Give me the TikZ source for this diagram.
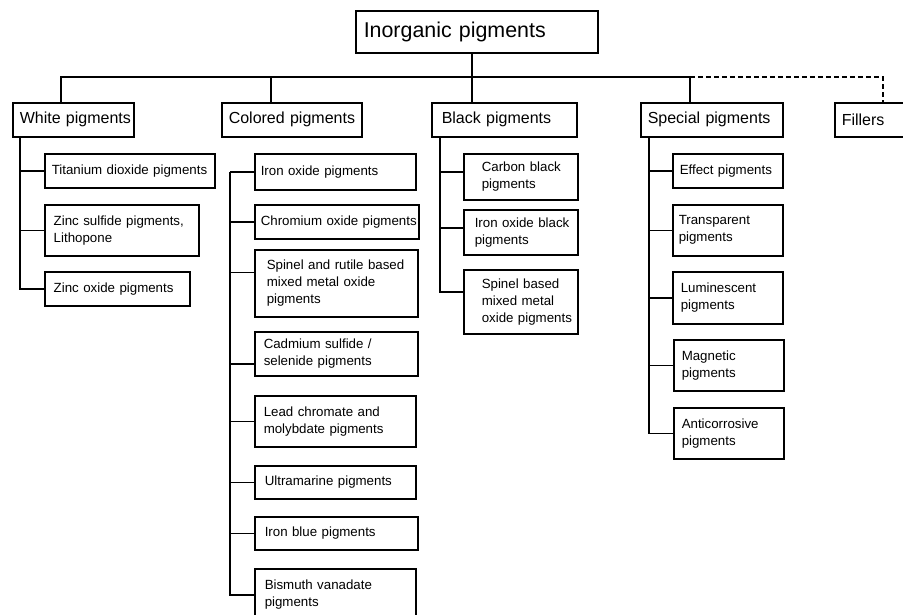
\documentclass[tikz,border=0pt]{standalone}
\usepackage{fontspec}
\setmainfont{Liberation Sans}

\begin{document}
\begin{tikzpicture}[x=1pt,y=-1pt,line width=1.5pt,
    every node/.style={draw, anchor=north west, align=left, inner xsep=0pt, inner ysep=0pt},
    lpad/.style={execute at begin node={\leftskip=#1pt}},
    head/.style={font=\fontsize{21.4}{25}\selectfont, minimum height=42pt},
    group/.style={font=\fontsize{16}{19}\selectfont, minimum height=34pt},
    item/.style={font=\fontsize{13.3}{17}\selectfont}]
    \useasboundingbox (0,0) rectangle (903,614);

    \node[head, lpad=8, text width=242pt] (inorg) at (355,10) {Inorganic pigments};

    \node[group, lpad=7, text width=121pt] (white) at (12,102) {White pigments};
    \node[group, lpad=7, text width=140pt] (colored) at (221,102) {Colored pigments};
    \node[group, lpad=10, text width=145pt] (black) at (431,102) {Black pigments};
    \node[group, lpad=7, text width=142pt] (special) at (640,102) {Special pigments};
    \node[group, lpad=7, text width=80pt] (fillers) at (834,102) {Fillers};

    \node[item, lpad=7, text width=170pt, minimum height=34pt] (tio) at (44,153) {Titanium dioxide pigments};
    \node[item, lpad=9, text width=154pt, minimum height=51pt] (zns) at (44,204) {Zinc sulfide pigments,\\Lithopone};
    \node[item, lpad=9, text width=145pt, minimum height=34pt] (zno) at (44,271) {Zinc oxide pigments};

    \node[item, lpad=6, text width=161pt, minimum height=36pt] (feox) at (254,153) {Iron oxide pigments};
    \node[item, lpad=6, text width=164pt, minimum height=34pt] (crox) at (254,204) {Chromium oxide pigments};
    \node[item, lpad=12, text width=163pt, minimum height=67pt] (rutile) at (254,249) {Spinel and rutile based\\mixed metal oxide\\pigments};
    \node[item, lpad=9, text width=163pt, minimum height=44pt] (cds) at (254,331) {Cadmium sulfide /\\selenide pigments};
    \node[item, lpad=9, text width=161pt, minimum height=51pt] (lead) at (254,395) {Lead chromate and\\molybdate pigments};
    \node[item, lpad=10, text width=161pt, minimum height=33pt] (ultra) at (254,465) {Ultramarine pigments};
    \node[item, lpad=10, text width=163pt, minimum height=33pt] (ironblue) at (254,516) {Iron blue pigments};
    \node[item, lpad=10, text width=161pt, minimum height=52pt] (bivo) at (254,568) {Bismuth vanadate\\pigments};

    \node[item, lpad=18, text width=114pt, minimum height=46pt] (carbon) at (463,153) {Carbon black\\pigments};
    \node[item, lpad=11, text width=114pt, minimum height=45pt] (feblack) at (463,209) {Iron oxide black\\pigments};
    \node[item, lpad=18, text width=114pt, minimum height=64pt] (spinel) at (463,269) {Spinel based\\mixed metal\\oxide pigments};

    \node[item, lpad=7, text width=110pt, minimum height=34pt] (effect) at (672,153) {Effect pigments};
    \node[item, lpad=6, text width=110pt, minimum height=51pt] (transp) at (672,204) {Transparent\\pigments};
    \node[item, lpad=8, text width=110pt, minimum height=52pt] (lumi) at (672,271) {Luminescent\\pigments};
    \node[item, lpad=8, text width=110pt, minimum height=51pt] (magn) at (673,339) {Magnetic\\pigments};
    \node[item, lpad=8, text width=110pt, minimum height=51pt] (anticorr) at (673,407) {Anticorrosive\\pigments};

    \draw ([xshift=-5pt]inorg.south) -- ([xshift=-5pt]inorg.south |- black.north);
    \draw ([xshift=-12.5pt]white.north) -- ++(0,-25) -| ([xshift=-22pt]special.north);
    \draw ([xshift=-21pt]colored.north) -- ++(0,-25);
    \draw[dash pattern=on 5pt off 3pt] ([xshift=-22pt]special.north) ++(0,-25) -| ([xshift=8pt]fillers.north);

    \foreach \n in {tio,zns,zno}
        \draw ([xshift=8pt]white.south west) |- (\n.west);
    \draw (feox.west) -- ++(-24,0) coordinate (ctop);
    \foreach \n/\s in {crox/0,rutile/11,cds/-10,lead/0,ultra/0,ironblue/0,bivo/0}
        \draw (ctop) |- ([yshift=\s pt]\n.west);
    \foreach \n/\s in {carbon/5,feblack/4.5,spinel/10}
        \draw ([xshift=9pt]black.south west) |- ([yshift=\s pt]\n.west);
    \foreach \n in {effect,transp,lumi,magn,anticorr}
        \draw ([xshift=9pt]special.south west) |- (\n.west);
\end{tikzpicture}
\end{document}
